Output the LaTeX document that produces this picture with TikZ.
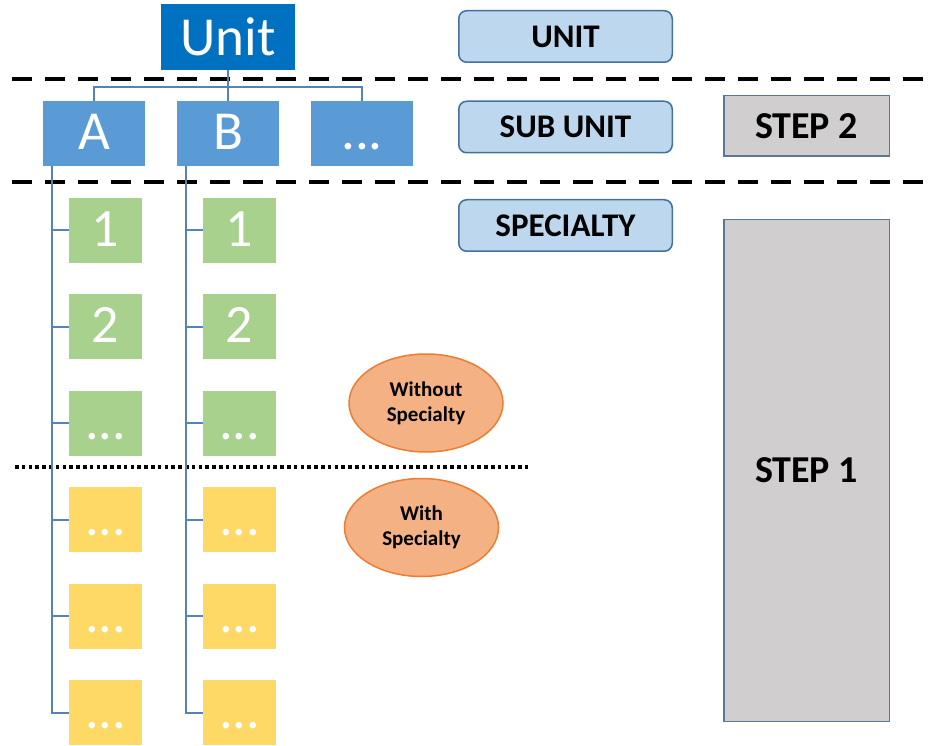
\documentclass[tikz,border=0pt]{standalone}
\usepackage{fontspec}
\setmainfont{Carlito}
\usetikzlibrary{positioning,shapes.geometric,calc}
\definecolor{unitblue}{RGB}{0,112,192}
\definecolor{subblue}{RGB}{91,155,213}
\definecolor{linkblue}{RGB}{84,130,185}
\definecolor{specgreen}{RGB}{169,209,142}
\definecolor{specyellow}{RGB}{255,217,102}
\definecolor{labelfill}{RGB}{189,215,238}
\definecolor{labeldraw}{RGB}{65,113,156}
\definecolor{stepfill}{RGB}{208,206,206}
\definecolor{stepdraw}{RGB}{90,120,150}
\definecolor{ovalfill}{RGB}{244,177,131}
\definecolor{ovaldraw}{RGB}{237,125,49}
\newcommand\threedots{...}
\tikzset{
  unitbox/.style={fill=unitblue, text=white, minimum width=134pt, minimum height=66pt, inner sep=0pt, font=\fontsize{55}{60}\selectfont},
  subbox/.style={fill=subblue, text=white, minimum width=102pt, minimum height=65pt, inner sep=0pt, text height=33pt, text depth=0pt, font=\fontsize{55}{60}\selectfont},
  specbox/.style={text=white, minimum width=73pt, minimum height=65pt, inner sep=0pt, text height=32pt, text depth=0pt, font=\fontsize{54}{60}\selectfont},
  greenbox/.style={specbox, fill=specgreen},
  yellowbox/.style={specbox, fill=specyellow},
  levellabel/.style={draw=labeldraw, fill=labelfill, line width=1.5pt, rounded corners=8pt, minimum width=213.5pt, minimum height=51.5pt, inner sep=0pt, font=\fontsize{33}{36}\selectfont\bfseries},
  stepbox/.style={draw=stepdraw, fill=stepfill, line width=1.5pt, minimum width=165.5pt, inner sep=0pt, font=\fontsize{38}{44}\selectfont\bfseries},
  oval/.style={ellipse, draw=ovaldraw, fill=ovalfill, line width=1.5pt, minimum width=154pt, minimum height=98pt, inner sep=0pt, align=center, font=\fontsize{21}{25}\selectfont\bfseries},
  link/.style={draw=linkblue, line width=2pt},
  separator/.style={line width=4pt, dash pattern=on 20pt off 13pt},
  split/.style={line width=3.5pt, dash pattern=on 3.5pt off 3.3pt}
}

\begin{document}
\begin{tikzpicture}[x=1pt, y=-1pt]
  \useasboundingbox (0,0) rectangle (932,746);
  % level separators
  \draw[separator] (12,79) -- (932,79);
  \draw[separator] (12,182) -- (932,182);
  \draw[split] (15,467) -- (528,467);
  % unit and sub units
  \node[unitbox] (unit) at (228,37) {Unit};
  \node[subbox] (A) at (94,133.5) {A};
  \node[subbox] (B) at (228,133.5) {B};
  \node[subbox] (D) at (362,133.5) {...};
  \coordinate (bus) at ($(unit.south)!0.55!(B.north)$);
  \draw[link] (unit.south) -- (B.north);
  \draw[link] (A.north) |- (bus) -| (D.north);
  % specialties
  \foreach \i/\y/\lbl/\st in {1/230.5/1/greenbox, 2/326.9/2/greenbox, 3/423.3/\threedots/greenbox, 4/519.7/\threedots/yellowbox, 5/616.1/\threedots/yellowbox, 6/712.5/\threedots/yellowbox}{
    \node[\st] (A\i) at (105.5,\y) {\lbl};
    \node[\st] (B\i) at (239.5,\y) {\lbl};
  }
  \coordinate (Atop) at ($(A.south west)+(9,0)$);
  \coordinate (Btop) at ($(B.south west)+(9,0)$);
  \draw[link] (Atop) |- (A6.west);
  \draw[link] (Btop) |- (B6.west);
  \foreach \i in {1,...,5}{
    \draw[link] (A\i.west) -- (A\i.west -| Atop);
    \draw[link] (B\i.west) -- (B\i.west -| Btop);
  }
  % levels and steps
  \node[levellabel] (lunit) at (565.5,36.5) {UNIT};
  \node[levellabel] (lsub) at (565.5,127) {SUB UNIT};
  \node[levellabel] (lspec) at (565.5,225.5) {SPECIALTY};
  \node[stepbox, minimum height=60.5pt] (step2) at (806.5,126) {STEP 2};
  \node[stepbox, minimum height=501.5pt] (step1) at (806.5,470.5) {STEP 1};
  \node[oval] (without) at (426,403) {Without\\Specialty};
  \node[oval] (with) at (421.5,527.5) {With\\Specialty};
\end{tikzpicture}
\end{document}
